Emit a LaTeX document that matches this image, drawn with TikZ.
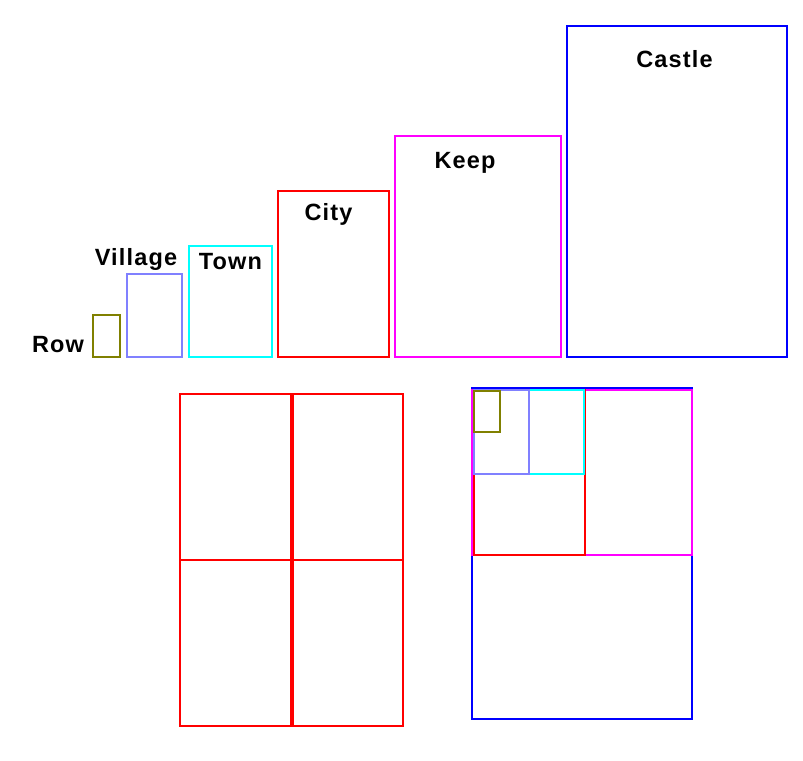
\documentclass[tikz,border=0pt]{standalone}
\usepackage{fontspec}
\setmainfont{Liberation Sans}[LetterSpace=5]
\begin{document}
\begin{tikzpicture}[x=1bp,y=-1bp,
  box/.style={line width=1.7bp},
  lbl/.style={anchor=base,inner sep=0pt,font=\fontsize{23.5bp}{26bp}\selectfont\bfseries}]
\definecolor{cRow}{HTML}{808000}
\definecolor{cVil}{HTML}{8080FF}
\definecolor{cTown}{HTML}{00FFFF}
\definecolor{cCity}{HTML}{FF0000}
\definecolor{cKeep}{HTML}{FF00FF}
\definecolor{cCastle}{HTML}{0000FF}
\useasboundingbox (0,0) rectangle (803,761);
% top row
\draw[box,cRow] (93,315) rectangle (120,357);
\draw[box,cVil] (127,274) rectangle (182,357);
\draw[box,cTown] (189,246) rectangle (272,357);
\draw[box,cCity] (278,191) rectangle (389,357);
\draw[box,cKeep] (395,136) rectangle (561,357);
\draw[box,cCastle] (567,26) rectangle (787,357);
\node[lbl] (lrow) at (58,352) {Row};
\node[lbl] (lvil) at (136,265) {Village};
\node[lbl] (ltown) at (230.5,269) {Town};
\node[lbl] (lcity) at (328.5,220) {City};
\node[lbl] (lkeep) at (465,168) {Keep};
\node[lbl] (lcastle) at (674.5,68) {Castle};
% bottom left: four cities
\draw[box,cCity] (180,394) rectangle (291,560);
\draw[box,cCity] (293,394) rectangle (403,560);
\draw[box,cCity] (180,560) rectangle (291,726);
\draw[box,cCity] (293,560) rectangle (403,726);
% bottom right: nested
\draw[box,cCastle] (472,388) rectangle (692,719);
\draw[box,cKeep] (472,390) rectangle (692,555);
\draw[box,cCity] (474,390) rectangle (585,555);
\draw[box,cTown] (474,390) rectangle (584,474);
\draw[box,cVil] (474,390) rectangle (529,474);
\draw[box,cRow] (474,391) rectangle (500,432);
\end{tikzpicture}
\end{document}
